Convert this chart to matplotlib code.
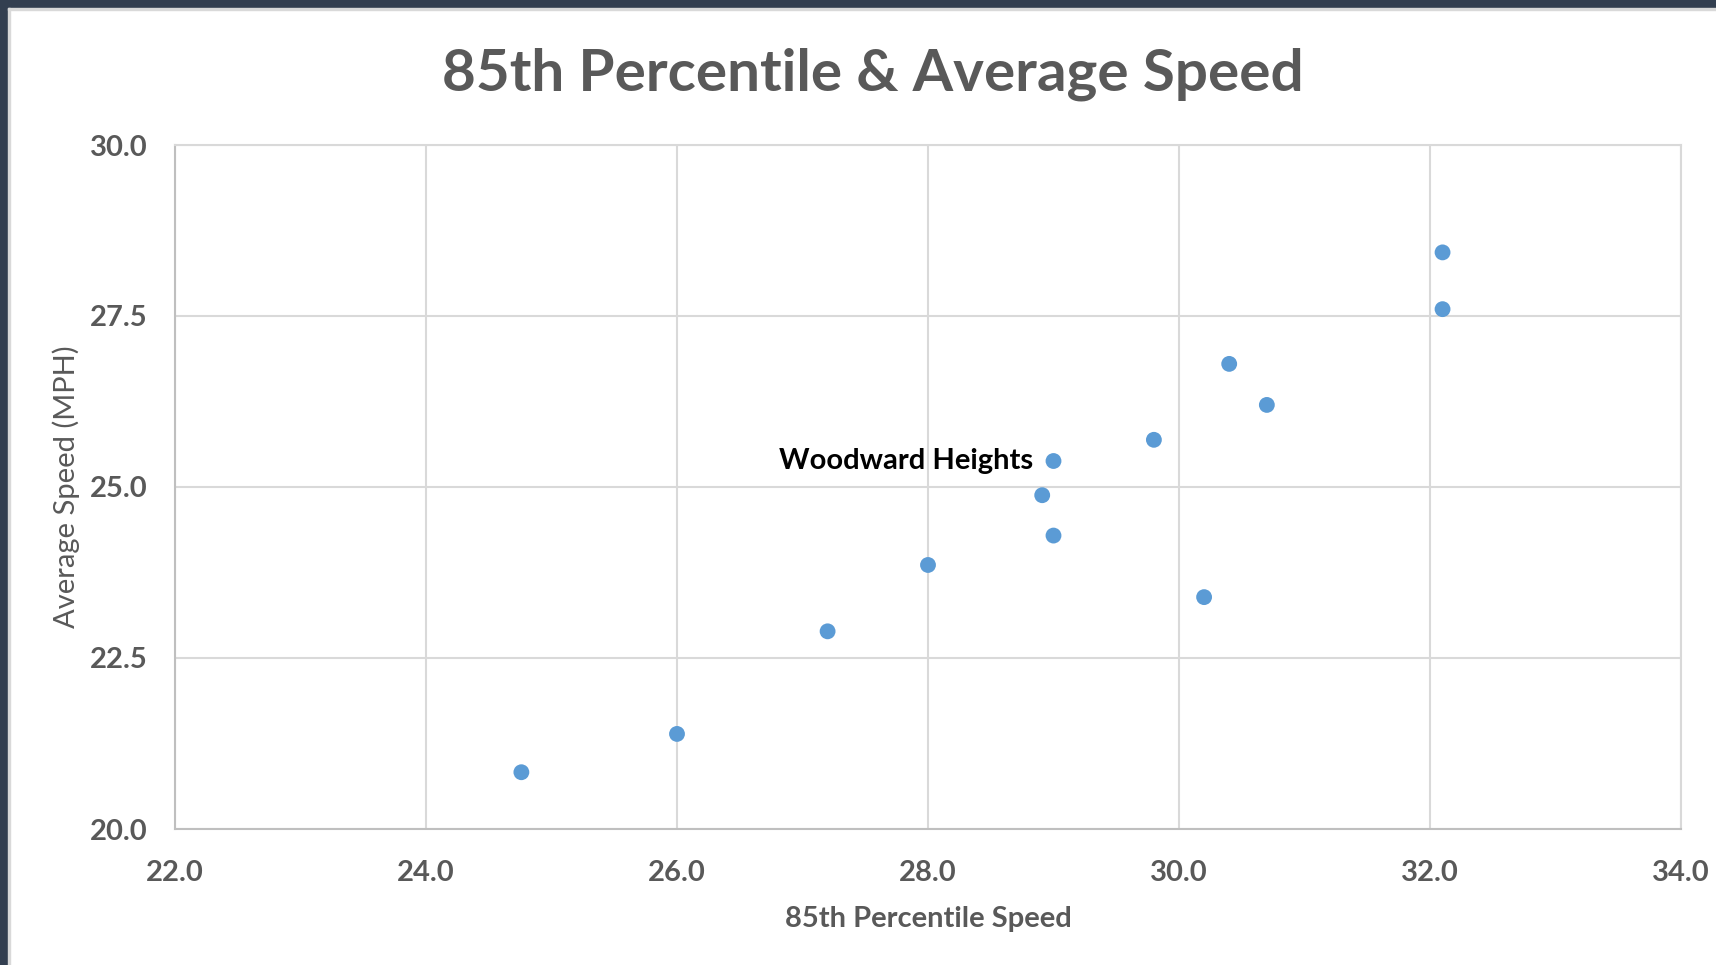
import matplotlib.pyplot as plt
from matplotlib.patches import Rectangle

# 85th percentile speed (x) vs average speed (y), one point per location
pct85_speed = [24.76, 26.0, 27.2, 28.0, 28.91, 29.0, 29.0, 29.8, 30.2, 30.4, 30.7, 32.1, 32.1]
avg_speed = [20.83, 21.39, 22.89, 23.86, 24.88, 24.29, 25.38, 25.69, 23.39, 26.80, 26.20, 27.60, 28.43]
point_labels = ['', '', '', '', '', '', 'Woodward Heights', '', '', '', '', '', '']

x_ticks = [22.0, 24.0, 26.0, 28.0, 30.0, 32.0, 34.0]
y_ticks = [20.0, 22.5, 25.0, 27.5, 30.0]

title = '85th Percentile & Average Speed'
x_label = '85th Percentile Speed'
y_label = 'Average Speed (MPH)'

font = 'Lato'
gray_text = '#595959'
grid_color = '#d9d9d9'
dot_color = '#5b9bd5'

plt.rcParams['font.family'] = [font, 'DejaVu Sans']

fig = plt.figure(figsize=(17.16, 9.65), dpi=100)
fig.patch.set_facecolor('white')

# dark frame on top and left edges, like the screenshot
fig.patches.append(Rectangle((0, 1 - 8 / 965), 1, 8 / 965, transform=fig.transFigure,
                             color='#333f50', zorder=0))
fig.patches.append(Rectangle((0, 0), 8 / 1716, 1, transform=fig.transFigure,
                             color='#333f50', zorder=0))
fig.patches.append(Rectangle((8 / 1716, 1 - 10 / 965), 1, 2 / 965, transform=fig.transFigure,
                             color='#d9d9d9', zorder=0))
fig.patches.append(Rectangle((8 / 1716, 0), 2 / 1716, 1 - 8 / 965, transform=fig.transFigure,
                             color='#d9d9d9', zorder=0))

ax = fig.add_axes([175 / 1716, 1 - 829 / 965, 1506 / 1716, 684 / 965])

ax.scatter(pct85_speed, avg_speed, s=130, color=dot_color, edgecolors='none', zorder=3)
for x, y, lab in zip(pct85_speed, avg_speed, point_labels):
    if lab:
        ax.annotate(lab, (x, y), xytext=(-15, 0), textcoords='offset points',
                    ha='right', va='center', fontsize=21, fontweight='bold', color='black')

ax.set_xlim(x_ticks[0], x_ticks[-1])
ax.set_ylim(y_ticks[0], y_ticks[-1])
ax.set_xticks(x_ticks)
ax.set_yticks(y_ticks)
ax.set_xticklabels([f'{v:.1f}' for v in x_ticks])
ax.set_yticklabels([f'{v:.1f}' for v in y_ticks])

ax.grid(True, color=grid_color, linewidth=1.5, zorder=0)
ax.set_axisbelow(True)
for side in ['top', 'right']:
    ax.spines[side].set_color(grid_color)
    ax.spines[side].set_linewidth(1.5)
for side in ['left', 'bottom']:
    ax.spines[side].set_color('#bfbfbf')
    ax.spines[side].set_linewidth(1.5)

ax.tick_params(axis='both', length=0, labelsize=21, labelcolor=gray_text)
ax.tick_params(axis='x', pad=22)
ax.tick_params(axis='y', pad=20)
for lbl in ax.get_xticklabels() + ax.get_yticklabels():
    lbl.set_fontweight('bold')

ax.set_xlabel(x_label, fontsize=21, fontweight='bold', color=gray_text, labelpad=15)
ax.set_ylabel(y_label, fontsize=21, color=gray_text, labelpad=7)

fig.text(873 / 1716, 1 - 74 / 965, title, ha='center', va='center',
         fontsize=42, fontweight='bold', color=gray_text)

fig.savefig('out.png', dpi=100)
